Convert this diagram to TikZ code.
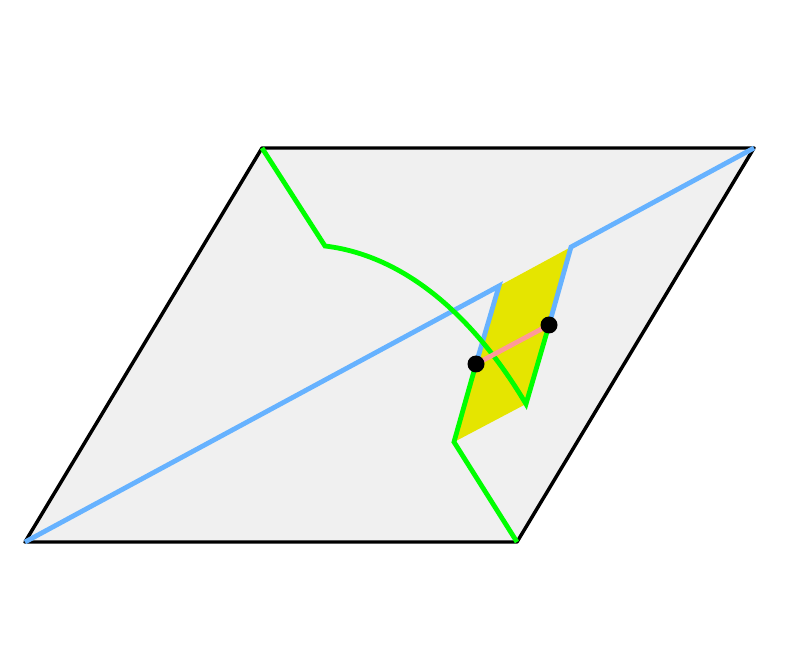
\documentclass[tikz,border=0pt]{standalone}
\usepackage{tikz}

\definecolor{sheetgray}{RGB}{240,240,240}
\definecolor{foldblue}{RGB}{102,178,255}
\definecolor{creasegreen}{RGB}{0,255,0}
\definecolor{flapyellow}{RGB}{229,229,0}
\definecolor{linkpink}{RGB}{255,153,153}

\tikzset{every picture/.style={line width=0.75pt}}
\tikzset{
  edgeline/.style={line width=2.6pt, line join=round},
  blueline/.style={draw=foldblue, line width=3.6pt, line join=miter},
  greenline/.style={draw=creasegreen, line width=3.6pt, line join=miter},
  pinkline/.style={draw=linkpink, line width=3.6pt},
  dotmark/.style={fill=black}
}

\begin{document}
\begin{tikzpicture}[x=0.75pt,y=0.75pt,yscale=-1.0,xscale=1.0]
    \useasboundingbox (0,0) rectangle (789,666);

    % Corners
    \coordinate (bl) at (25,542);
    \coordinate (br) at (517,542);
    \coordinate (tr) at (754,148);
    \coordinate (tl) at (262,148);
    % Flap
    \coordinate (fa) at (499,286);
    \coordinate (fb) at (571,247);
    \coordinate (fc) at (526,404);
    \coordinate (fd) at (454,442);
    % Crease bend
    \coordinate (kink) at (325,246);
    % Dots
    \coordinate (pl) at (476,364);
    \coordinate (pr) at (549,325);

    % Sheet
    \fill [sheetgray] (bl) -- (br) -- (tr) -- (tl) -- cycle ;
    \draw [edgeline] (bl) -- (br) -- (tr) -- (tl) -- cycle ;
    % Flap
    \fill [flapyellow] (fa) -- (fb) -- (fc) -- (fd) -- cycle ;
    % Diagonal
    \draw [blueline] (bl) -- (fa) -- (pl) ;
    \draw [blueline] (pr) -- (fb) -- (tr) ;
    % Crease
    \draw [greenline] (tl) -- (kink) .. controls (400,255) and (470,310) .. (fc) -- (pr) ;
    \draw [greenline] (br) -- (fd) -- (pl) ;
    % Link
    \draw [pinkline] (pl) -- (pr) ;
    \fill [dotmark] (pl) circle (8.5) ;
    \fill [dotmark] (pr) circle (8.5) ;
\end{tikzpicture}
\end{document}
